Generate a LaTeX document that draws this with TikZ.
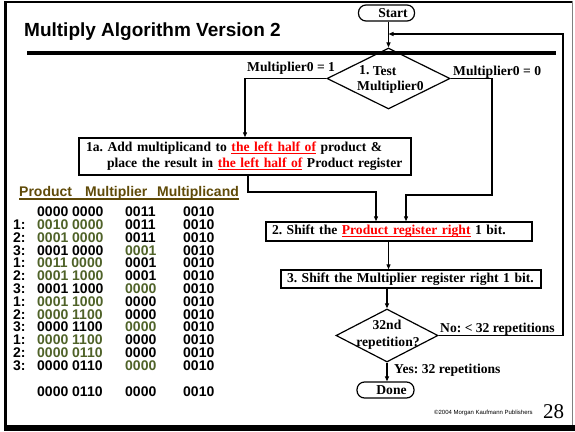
\documentclass[tikz,border=0pt]{standalone}
\usepackage{fontspec}
\setmainfont{Liberation Serif}
\setsansfont{Liberation Sans}
\usetikzlibrary{shapes.geometric,arrows.meta,calc}
\definecolor{tgreen}{RGB}{79,98,40}
\definecolor{thead}{RGB}{96,74,8}
% red, thickly underlined phrase
\newcommand\redul[1]{{\color{red}\setbox0\hbox{#1}\rlap{\rule[-2.6pt]{\wd0}{1.3pt}}\box0}}
\begin{document}
\frenchspacing
\begin{tikzpicture}[x=1pt,y=-1pt,
  flow/.style={font=\fontsize{13.6}{16}\selectfont\bfseries},
  box/.style={draw, line width=1.4pt, inner ysep=0pt, inner xsep=6pt, align=left, flow},
  term/.style={draw, line width=1.2pt, rounded corners=7.5pt, minimum height=16pt, inner sep=0pt, flow},
  dia/.style={draw, diamond, line width=1.2pt, inner sep=0pt},
  arr/.style={line width=1.1pt, -{Triangle[length=5pt,width=4pt]}},
  lbl/.style={inner sep=0pt, anchor=base west, flow},
  tab/.style={inner sep=0pt, anchor=base west, font=\sffamily\bfseries\fontsize{14}{14}\selectfont}]
\useasboundingbox (0,0) rectangle (575,431);

% slide frame
\fill (4,0.5) rectangle (572,3);
\fill (4,0.5) rectangle (7,431);
\fill (4,424.5) rectangle (575,431);
\draw[gray, line width=1.2pt] (572.5,0.5) -- (572.5,424.5);

% title and rule
\node[anchor=base west, inner sep=0pt, font=\sffamily\bfseries\fontsize{19}{19}\selectfont] (title) at (24,36) {Multiply Algorithm Version 2};
\draw[line width=4pt] (27,53) -- (556,53);

% flowchart
\node[term, minimum width=56pt] (start) at (386.5,13) {\hspace*{13pt}Start};
\node[dia, minimum width=123pt, minimum height=61pt] (d1) at (388.5,78.5) {};
\node[lbl] (d1a) at (359,74.5) {1. \raisebox{-1pt}{Test}};
\node[lbl] (d1b) at (357,90) {Multiplier0};
\node[lbl] (l1) at (247,71) {Multiplier0 = 1};
\node[lbl] (l0) at (453,75) {Multiplier0 = 0};

\node[box, minimum width=332pt, minimum height=37pt, text width=318pt, inner xsep=7pt] (b1) at (245,156.5)
  {1a. Add multiplicand to \redul{the left half of} product \&\\\hspace*{21pt}place the result in \redul{the left half of} Product register};
\node[box, minimum width=266pt, minimum height=19pt, text width=254pt] (b2) at (399,231.5)
  {2. Shift the \redul{Product register right} 1 bit.};
\node[box, minimum width=260pt, minimum height=18pt, text width=248pt] (b3) at (411,279)
  {3. Shift the Multiplier register right 1 bit.};

\node[dia, minimum width=102pt, minimum height=53pt] (d2) at (387,335.5) {};
\node[flow, anchor=base, inner sep=0pt] (d2a) at (387,329) {32nd};
\node[flow, anchor=base, inner sep=0pt] (d2b) at (388,346) {repetition?};
\node[lbl] (lno) at (440,332) {No: < 32 repetitions};
\node[lbl] (lyes) at (394,373) {Yes: 32 repetitions};
\node[term, minimum width=57pt] (done) at (385.5,390) {\hspace*{12pt}Done};

\coordinate (lp) at (563,34);
\coordinate (rb) at (492,195);
\coordinate (rb2) at (406,195);
\coordinate (lb) at (376,192);

\draw[arr] (start.south -| d1) -- (d1.north);
\draw[arr] (d1.west) -| (b1.north);
\draw[arr] (d1.east) -| (rb) -- (rb2) -- (rb2 |- b2.north);
\draw[arr] ($(b1.south)+(3,0)$) |- (lb) -- (lb |- b2.north);
\draw[arr] (b2.south -| d1) -- (b3.north -| d1);
\draw[arr] (b3.south -| d2) -- (d2.north);
\draw[arr] (d2.east) -| (lp) -- (lp -| d1);
\draw[arr] (d2.south) -- (done.north -| d2);

% trace table
\node[tab, text=thead] (hp) at (19,196) {Product};
\node[tab, text=thead] (hm) at (85,196) {Multiplier};
\node[tab, text=thead] (hc) at (157,196) {Multiplicand};
\draw[thead, line width=1.5pt] ($(hp.base west)+(0,3)$) -- ($(hc.base east)+(0,3)$);

\foreach \i/\lab/\p/\pc/\m/\mc in {
  0/{}/0000 0000/black/0011/black,
  1/1:/0010 0000/tgreen/0011/black,
  2/2:/0001 0000/tgreen/0011/black,
  3/3:/0001 0000/black/0001/tgreen,
  4/1:/0011 0000/tgreen/0001/black,
  5/2:/0001 1000/tgreen/0001/black,
  6/3:/0001 1000/black/0000/tgreen,
  7/1:/0001 1000/tgreen/0000/black,
  8/2:/0000 1100/tgreen/0000/black,
  9/3:/0000 1100/black/0000/tgreen,
  10/1:/0000 1100/tgreen/0000/black,
  11/2:/0000 0110/tgreen/0000/black,
  12/3:/0000 0110/black/0000/tgreen}{
  \pgfmathsetmacro\yy{216.7+12.8*\i}
  \node[tab] (lab\i) at (13,\yy) {\lab};
  \node[tab, text=\pc] (p\i) at (37,\yy) {\p};
  \node[tab, text=\mc] (m\i) at (125,\yy) {\m};
  \node[tab] (c\i) at (183,\yy) {0010};
}
\node[tab] (pf) at (37,396.7) {0000 0110};
\node[tab] (mf) at (125,396.7) {0000};
\node[tab] (cf) at (183,396.7) {0010};

% footer
\node[anchor=base west, inner sep=0pt, font=\sffamily\fontsize{6}{6}\selectfont] (copy) at (434,414) {©2004 Morgan Kaufmann Publishers};
\node[anchor=base west, inner sep=0pt, font=\fontsize{21}{21}\selectfont] (pg) at (543,418) {28};
\end{tikzpicture}
\end{document}
